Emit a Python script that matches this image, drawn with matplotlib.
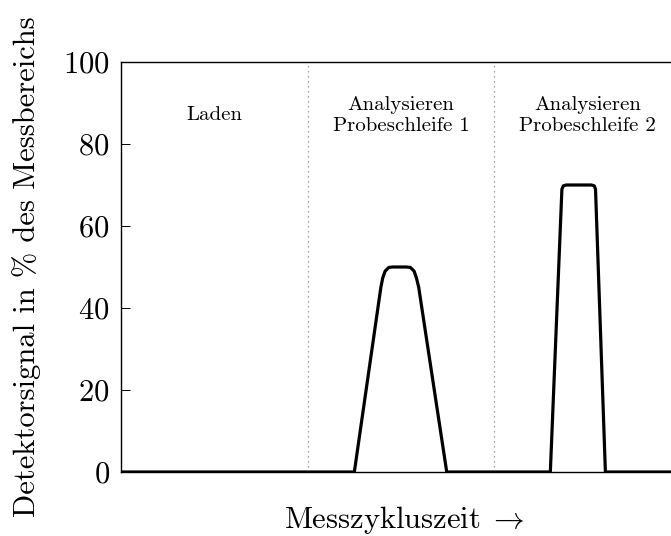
import matplotlib
matplotlib.use("Agg")
import matplotlib.pyplot as plt

plt.rcParams["font.family"] = "serif"
plt.rcParams["font.serif"] = ["cmr10", "DejaVu Serif"]
plt.rcParams["mathtext.fontset"] = "cm"
plt.rcParams["axes.formatter.use_mathtext"] = True

# detector signal over one measuring cycle (x in arbitrary time units, 3 phases of 10)
zeit = [0, 12.5, 13.92, 14.02, 14.15, 14.35, 14.55, 15.3, 15.5, 15.7, 15.83, 15.95, 17.45,
        23.0, 23.62, 23.7, 23.85, 25.2, 25.35, 25.42, 25.95, 31]
signal = [0, 0, 45, 47.3, 49.0, 49.9, 50, 50, 49.9, 49.0, 47.3, 45, 0,
          0, 69.0, 69.8, 70, 70, 69.8, 69.0, 0, 0]

phasen_grenzen = [10, 20]
phasen_mitten = [5, 15, 25]
phasen_texte = ["Laden", "Analysieren\nProbeschleife 1", "Analysieren\nProbeschleife 2"]
y_ticks = [0, 20, 40, 60, 80, 100]

fig = plt.figure(figsize=(6.71, 5.36), dpi=100)
ax = fig.add_axes([121 / 671, 64 / 536, 560 / 671, 410 / 536])

for g in phasen_grenzen:
    ax.axvline(g, color="#888888", linestyle=(0, (1, 3)), linewidth=0.9, zorder=1)

ax.plot(zeit, signal, color="black", linewidth=2.3, solid_joinstyle="round", zorder=3)

for xm, txt in zip(phasen_mitten, phasen_texte):
    ax.text(xm, 87, txt, ha="center", va="center", fontsize=15, linespacing=1.25)

ax.set_xlim(0, 30)
ax.set_ylim(0, 100)
ax.set_xticks([])
ax.set_yticks(y_ticks)
ax.tick_params(axis="y", direction="in", length=6.5, width=0.7, labelsize=22,
               pad=8, right=True)
for s in ax.spines.values():
    s.set_linewidth(1.0)

ax.set_ylabel("Detektorsignal in % des Messbereichs", fontsize=22)
ax.yaxis.set_label_coords(-0.168, 0.5)
ax.yaxis.label.set_va("center")
ax.set_xlabel(r"Messzykluszeit$\;\rightarrow$", fontsize=22)
ax.xaxis.set_label_coords((404 - 121) / 560, -48 / 410)
ax.xaxis.label.set_va("center")

fig.savefig("out.png", dpi=100)
